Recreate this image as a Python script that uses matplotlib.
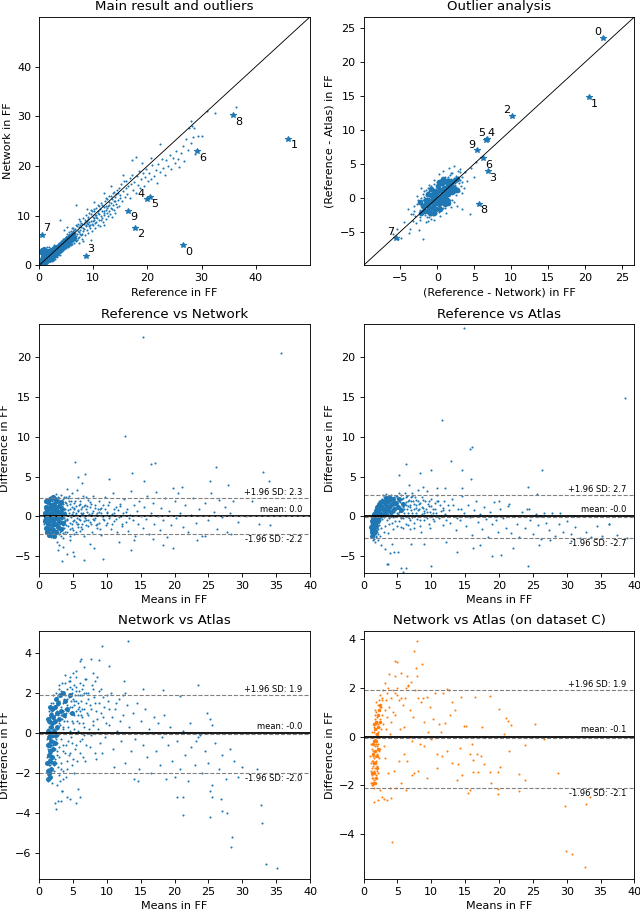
import numpy as np
import matplotlib
matplotlib.use("Agg")
import matplotlib.pyplot as plt
from matplotlib import transforms

# labelled outliers 0..9 : reference, network, atlas (FF)
out_ref = [26.6, 46.0, 17.7, 8.7, 19.9, 20.4, 29.2, 0.6, 35.8, 16.4]
out_net = [4.1, 25.5, 7.6, 1.9, 13.3, 13.7, 23.0, 6.2, 30.2, 11.0]
out_atlas = [3.0, 31.2, 5.6, 4.8, 11.4, 11.7, 23.4, 6.5, 36.7, 9.4]

# panel 1: reference vs network (dense core drawn with bigger dots)
p1_core = [
    (0.4,0.4),(0.5,0.6),(0.6,1.2),(0.7,1.9),(0.8,0.8),(0.9,1.5),(0.9,0.5),(1.0,2.3),(1.1,1.0),(1.2,1.7),(1.3,2.6),(1.3,0.6),(1.4,1.2),(1.5,2.0),(1.6,2.9),(1.7,1.4),(1.8,2.2),(1.9,1.0),(2.0,2.7),(2.1,1.7),
    (2.2,3.1),(2.3,1.3),(2.4,2.3),(2.5,3.0),(2.6,1.8),(2.7,2.6),(2.8,3.5),(2.9,2.1),(3.0,2.9),(3.2,3.7),(3.3,2.5),(3.4,3.2),(3.6,4.0),(3.7,2.9),(3.8,3.6),(4.0,4.4),(4.1,3.3),(4.2,4.0),(4.4,4.8),(4.5,3.7),
    (4.6,4.4),(4.8,5.1),(4.9,4.1),(5.0,4.8),(5.2,5.5),(5.3,4.5),(5.5,5.2),(5.7,6.0),(5.8,4.9),(6.0,5.6),(6.3,6.3),(6.5,5.5),(0.4,2.6),(0.6,3.0),(1.0,3.2),
]
p1_pts = [
    (0.35,0.4),(0.4,0.9),(0.45,1.5),(0.5,0.6),(0.5,2.2),(0.55,1.1),(0.6,0.5),(0.6,1.8),(0.65,2.8),(0.7,0.8),(0.7,1.3),(0.75,2.1),(0.8,0.6),(0.8,3.4),(0.85,1.6),(0.9,1.0),(0.9,2.5),(0.95,0.7),(1.0,1.3),(1.0,1.9),
    (1.05,3.0),(1.1,0.8),(1.1,2.3),(1.15,1.5),(1.2,1.0),(1.2,2.8),(1.25,1.8),(1.3,0.7),(1.3,2.2),(1.35,1.3),(1.4,3.6),(1.4,1.7),(1.45,0.9),(1.5,2.5),(1.5,1.4),(1.55,2.0),(1.6,1.1),(1.6,3.1),(1.65,1.8),(1.7,0.8),
    (1.7,2.4),(1.75,1.5),(1.8,2.9),(1.8,1.2),(1.85,2.1),(1.9,1.7),(1.9,3.8),(1.95,0.9),(2.0,2.6),(2.0,1.4),(2.05,2.0),(2.1,3.3),(2.1,1.1),(2.15,1.8),(2.2,2.4),(2.2,1.5),(2.25,2.9),(2.3,0.9),(2.3,2.1),(2.35,1.7),
    (2.4,3.5),(2.4,1.3),(2.45,2.6),(2.5,1.9),(2.5,2.3),(2.55,1.1),(2.6,3.0),(2.6,1.6),(2.65,2.2),(2.7,2.7),(2.7,1.4),(2.75,4.2),(2.8,2.0),(2.8,3.3),(2.85,1.8),(2.9,2.5),(2.9,1.2),(2.95,2.9),(3.0,2.2),(3.0,3.7),
    (3.05,1.9),(3.1,2.6),(3.1,3.2),(3.15,4.0),(3.2,2.3),(3.25,3.5),(3.3,1.6),(3.3,2.9),(3.35,3.8),(3.4,2.5),(3.45,4.4),(3.5,3.1),(3.5,2.1),(3.55,3.6),(3.6,2.8),(3.65,4.6),(3.7,3.3),(3.7,2.4),(3.75,3.9),(3.8,2.9),
    (3.85,4.3),(3.9,3.4),(3.9,2.0),(3.95,3.7),(4.0,3.0),(4.05,4.9),(4.1,3.6),(4.1,2.6),(4.15,4.2),(4.2,3.3),(4.25,3.9),(4.3,2.8),(4.35,4.6),(4.4,3.5),(4.45,4.1),(4.5,3.0),(4.5,5.3),(4.55,3.8),(4.6,4.4),(4.65,3.2),
    (4.7,4.9),(4.75,3.7),(4.8,4.2),(4.85,3.4),(4.9,5.5),(4.95,4.0),(5.0,4.6),(5.05,3.5),(5.1,5.1),(5.15,4.3),(5.2,3.9),(5.25,5.8),(5.3,4.5),(5.35,3.6),(5.4,5.0),(5.45,4.2),(5.5,6.1),(5.55,4.8),(5.6,3.9),(5.65,5.4),
    (5.7,4.4),(5.75,6.4),(5.8,5.0),(5.85,4.1),(5.9,5.7),(5.95,4.7),(6.0,6.6),(6.05,5.2),(6.1,4.3),(6.15,5.9),(6.2,5.0),(6.3,7.0),(6.35,5.5),(6.4,4.6),(6.5,6.2),
    (6.6,5.1),(6.7,7.4),(6.8,6.0),(6.9,4.9),(7.0,7.9),(7.0,6.4),(7.1,5.5),(7.2,8.3),(7.3,6.8),(7.4,5.7),(7.5,7.2),(7.6,9.0),(7.7,6.1),(7.8,7.7),(7.9,5.4),(8.0,8.4),(8.1,6.9),(8.2,9.6),(8.3,7.4),(8.4,6.2),
    (8.5,8.8),(8.6,7.9),(8.7,10.1),(8.8,7.1),(8.9,8.5),(9.0,6.6),(9.1,9.3),(9.2,8.0),(9.3,10.6),(9.4,7.5),(9.5,9.0),(9.6,11.2),(9.7,8.4),(9.8,6.9),(9.9,9.7),(10.0,8.2),(10.1,10.9),(10.2,9.1),(10.3,7.6),(10.4,10.2),
    (10.5,11.6),(10.6,8.8),(10.7,9.6),(10.8,12.1),(10.9,8.1),(11.0,10.4),(11.1,9.2),(11.2,11.3),(11.3,7.9),(11.4,10.0),(11.5,12.5),(11.6,9.5),(11.7,10.9),(11.8,8.7),(11.9,11.7),(12.0,10.1),(12.2,12.9),(12.3,9.3),(12.4,11.2),(12.5,10.5),
    (12.6,13.4),(12.7,9.9),(12.8,12.0),(12.9,11.0),(13.0,14.0),(13.1,10.4),(13.2,12.6),(13.3,11.6),(13.4,9.8),(13.5,13.3),(13.6,12.1),(13.7,14.6),(13.8,11.2),(13.9,12.9),(14.0,10.6),(14.1,13.8),(14.2,12.4),(14.3,15.2),(14.4,11.8),(14.5,13.1),
    (14.6,14.5),(14.7,12.0),(14.8,15.6),(14.9,13.5),(3.9,9.1),(6.85,12.2),(4.6,7.2),(5.1,7.8),(9.6,5.2),(11.9,8.1),(7.3,4.6),(8.1,5.0),(6.2,7.6),(7.4,9.4),(8.8,11.3),(10.2,12.8),(12.0,14.6),(13.3,15.9),
    (5.2,6.3),(5.6,6.8),(6.0,7.5),(6.3,5.6),(6.6,6.5),(6.9,8.1),(7.2,7.0),(7.5,6.3),(7.8,8.6),(8.1,7.6),(8.4,9.2),(8.7,8.1),(9.0,9.8),(9.3,8.7),(9.6,10.3),(9.9,8.9),(10.2,11.3),(10.5,9.7),(10.8,10.6),(11.1,11.9),
    (11.4,9.1),(11.7,12.1),(12.0,11.0),(12.3,13.6),(12.6,11.6),(12.9,12.7),(13.2,13.9),(13.5,11.4),(13.8,14.7),(14.1,12.9),(6.4,7.1),(7.3,7.7),(8.3,8.4),(9.1,8.4),(10.1,9.6),(10.9,11.0),(11.9,10.6),(5.9,6.9),(6.7,5.8),(7.6,8.2),
    (8.9,9.0),(9.8,10.9),(10.6,10.2),(12.4,12.0),(13.0,12.2),(14.2,14.3),(7.0,5.2),(8.0,6.4),(9.4,8.1),(10.4,8.6),
    (15.0,14.1),(15.2,16.3),(15.3,13.0),(15.5,14.9),(15.6,17.0),(15.8,13.8),(16.0,15.6),(16.1,16.9),(16.3,14.4),(16.5,15.9),(16.7,17.5),(16.8,13.5),(17.0,16.4),(17.2,18.2),(17.4,15.2),(17.6,16.8),(17.8,14.6),(18.0,17.9),(18.2,16.1),(18.4,19.0),
    (18.6,15.6),(18.9,17.3),(19.1,18.6),(19.3,16.0),(19.6,17.8),(19.8,19.4),(20.1,16.9),(20.3,18.5),(20.6,17.4),(20.9,20.1),(21.2,18.0),(21.5,19.2),(21.8,16.5),(22.0,20.3),(22.3,18.7),(22.6,21.5),(22.9,19.6),(23.2,18.1),(23.5,21.2),(23.8,20.0),
    (24.1,22.3),(24.4,19.3),(24.7,21.7),(25.0,20.6),(25.3,23.0),(25.6,21.4),(25.9,19.8),(26.2,22.6),(26.5,24.1),(26.8,21.0),(27.1,25.4),(27.4,23.2),(27.7,27.6),(28.0,24.6),(28.3,28.0),(28.5,25.8),(28.8,22.4),(17.8,21.9),(17.2,21.2),(15.4,18.2),
    (29.3,26.0),(30.1,26.0),(28.6,27.6),(28.1,29.0),(30.9,31.1),(32.4,30.7),(36.4,31.9),(22.3,24.4),(20.6,21.6),(19.0,20.5),
]

# panel 2: (reference - network) vs (reference - atlas)
p2_core = [
    (-1.8,-1.9),(-1.5,-1.0),(-1.4,-2.0),(-1.2,-0.3),(-1.1,-1.4),(-1.0,-2.2),(-0.9,-0.7),(-0.8,0.4),(-0.7,-1.5),(-0.6,-0.2),(-0.5,1.0),(-0.4,-0.9),(-0.3,0.3),(-0.2,-1.7),(-0.1,-0.4),(0.0,0.8),(0.1,1.7),(0.2,-1.0),(0.3,0.1),(0.4,1.2),
    (0.5,-0.5),(0.6,2.1),(0.7,0.6),(0.8,-0.2),(0.9,1.5),(1.0,0.2),(1.1,2.4),(1.2,1.0),(1.3,-0.3),(1.4,1.8),(1.5,0.6),(1.6,2.5),(1.7,1.3),(1.9,2.0),(2.0,0.9),(2.2,2.4),(2.3,1.5),(-1.6,-0.4),(-2.0,-1.2),(-0.2,0.9),
    (0.4,-1.6),(-1.3,0.5),(0.2,2.3),(1.0,-0.9),(-0.5,-2.3),(0.7,2.8),(2.6,2.7),(-2.2,-2.3),(-2.3,-0.6),(2.7,1.1),(-0.9,1.3),(1.5,-0.8),
]
p2_pts = [
    (-2.4,-1.8),(-2.3,-0.9),(-2.2,-2.4),(-2.1,-1.3),(-2.0,-0.4),(-1.95,-2.0),(-1.9,-1.0),(-1.8,0.1),(-1.75,-1.6),(-1.7,-2.6),(-1.65,-0.6),(-1.6,-1.3),(-1.55,0.4),(-1.5,-2.1),(-1.45,-0.9),(-1.4,-1.6),(-1.35,0.0),(-1.3,-0.5),(-1.25,-2.3),(-1.2,-1.1),
    (-1.15,0.6),(-1.1,-1.8),(-1.05,-0.3),(-1.0,-0.9),(-0.95,-1.5),(-0.9,0.3),(-0.85,-2.1),(-0.8,-0.6),(-0.75,1.0),(-0.7,-1.2),(-0.65,-0.1),(-0.6,-1.7),(-0.55,0.5),(-0.5,-0.7),(-0.45,-1.3),(-0.4,0.8),(-0.35,-0.3),(-0.3,-2.0),(-0.25,0.2),(-0.2,-0.9),
    (-0.15,1.3),(-0.1,-0.5),(-0.05,-1.5),(0.0,0.5),(0.0,-0.1),(0.05,1.7),(0.1,-0.8),(0.15,0.9),(0.2,0.1),(0.25,-1.3),(0.3,1.4),(0.35,-0.4),(0.4,0.6),(0.45,2.1),(0.5,-0.1),(0.55,1.0),(0.6,-0.9),(0.65,1.8),(0.7,0.4),(0.75,2.5),
    (0.8,0.9),(0.85,-0.3),(0.9,1.5),(0.95,0.2),(1.0,2.2),(1.05,1.1),(1.1,-0.5),(1.15,1.7),(1.2,0.6),(1.25,2.7),(1.3,1.3),(1.35,0.1),(1.4,2.0),(1.45,0.9),(1.5,3.0),(1.55,1.6),(1.6,0.4),(1.65,2.4),(1.7,1.2),(1.75,3.3),
    (1.8,1.9),(1.85,0.8),(1.9,2.7),(1.95,1.5),(2.0,3.6),(2.1,2.2),(2.2,1.1),(2.3,2.9),(2.4,1.8),(2.5,3.2),(2.6,2.4),(2.7,1.4),(2.8,3.0),(2.9,2.1),(3.0,3.8),(3.1,2.6),
    (-2.0,0.5),(-1.6,1.1),(-1.2,1.4),(-0.8,1.7),(-0.4,2.0),(0.0,2.3),(0.4,2.6),(1.0,3.0),(-2.6,-0.3),(-2.8,-1.0),(-3.1,-1.9),(-2.4,-2.8),(-1.4,-2.8),(-0.6,-2.6),(0.2,-2.1),(0.8,-1.5),(1.4,-1.0),(2.0,-0.3),(2.5,0.4),(2.9,1.0),
    (3.2,1.7),(3.4,3.0),(-3.3,-2.4),(1.7,-0.4),(2.4,0.9),(-2.2,-0.1),(-1.1,1.0),(0.6,2.3),(1.5,2.8),(-0.9,-2.5),
    (-6.0,-5.3),(-5.3,-6.1),(-4.9,-6.0),(-5.5,-4.6),(-4.5,-3.6),(-3.7,-4.6),(-3.3,-3.4),(-2.0,-6.1),(-3.0,-2.7),(-3.6,-2.4),(-2.9,-3.8),(-4.0,-1.6),(-3.2,-1.2),(-2.7,0.3),(-2.4,-3.3),(-1.6,-3.6),(-0.9,-3.1),(-0.5,-3.3),(0.4,-2.7),(1.2,-2.2),
    (1.8,-1.4),(2.2,-0.6),(3.3,0.7),(3.6,1.5),(4.0,2.4),(4.4,-2.4),(3.3,-1.6),(2.7,-1.2),(3.7,3.8),(4.5,4.4),(3.1,4.2),(2.3,4.7),(1.6,4.4),(0.8,3.9),(0.2,3.5),(-0.4,2.6),(-1.1,1.9),(-1.8,1.0),(-2.2,1.4),(4.9,3.0),
    (5.2,5.2),(-3.9,-5.2),(-1.1,-2.8),(-2.5,-4.8),(2.8,4.0),(1.9,3.6),(3.4,2.3),(-1.3,-3.4),(1.0,-1.5),(-0.2,-2.3),
]

# panel 3: means vs (reference - network)
p3_core = [
    (0.9,-0.6),(0.9,0.4),(1.0,-1.5),(1.0,1.2),(1.1,-0.1),(1.2,-2.0),(1.2,0.8),(1.3,-0.9),(1.3,1.8),(1.4,0.2),(1.5,-1.6),(1.5,1.1),(1.6,-0.5),(1.6,2.2),(1.7,0.5),(1.8,-2.2),(1.8,1.5),(1.9,-1.1),(1.9,0.0),(2.0,2.4),
    (2.0,0.9),(2.1,-1.7),(2.1,-0.4),(2.2,1.6),(2.3,0.4),(2.3,-1.0),(2.4,2.2),(2.5,-2.0),(2.5,1.1),(2.6,-0.2),(2.7,0.7),(2.7,1.9),(2.8,-1.3),(2.9,0.1),(2.9,1.3),(3.0,-0.7),(3.1,0.6),(3.2,1.8),(3.2,-1.6),(3.3,-0.1),
    (1.4,-2.3),(1.1,1.9),(2.2,-2.5),(3.4,1.0),(3.5,-0.8),(3.7,0.3),
]
p3_pts = [
    (0.7,-0.3),(0.75,0.5),(0.8,-1.0),(0.85,0.9),(0.9,0.1),(0.95,-0.6),(1.0,1.3),(1.0,-1.5),(1.05,0.3),(1.1,-0.2),(1.1,1.8),(1.15,-0.9),(1.2,0.6),(1.2,-2.0),(1.25,0.0),(1.3,1.1),(1.3,-0.5),(1.35,2.2),(1.4,-1.3),(1.4,0.4),
    (1.45,-0.1),(1.5,1.5),(1.5,-0.8),(1.55,-2.3),(1.6,0.8),(1.6,-0.3),(1.65,2.5),(1.7,-1.6),(1.7,0.2),(1.75,1.2),(1.8,-0.6),(1.8,-2.6),(1.85,0.5),(1.9,1.9),(1.9,-1.1),(1.95,-0.2),(2.0,0.9),(2.0,2.6),(2.05,-1.8),(2.1,0.3),
    (2.1,-0.7),(2.15,1.4),(2.2,-0.1),(2.2,2.2),(2.25,-1.4),(2.3,0.6),(2.3,-2.4),(2.35,1.7),(2.4,-0.4),(2.4,0.1),(2.45,2.8),(2.5,-1.0),(2.5,1.0),(2.55,-0.2),(2.6,2.0),(2.6,-1.7),(2.65,0.4),(2.7,1.3),(2.7,-0.6),(2.75,2.5),
    (2.8,-1.3),(2.8,0.0),(2.85,0.8),(2.9,-2.2),(2.9,1.6),(2.95,-0.4),(3.0,0.5),(3.0,2.3),(3.05,-1.0),(3.1,1.1),(3.1,-0.1),(3.15,-1.9),(3.2,0.7),(3.2,1.9),(3.25,-0.6),(3.3,0.2),(3.3,2.7),(3.35,-1.4),(3.4,1.3),(3.4,-0.3),
    (3.45,0.6),(3.5,-2.1),(3.5,1.6),(3.55,-0.8),(3.6,0.3),(3.6,2.2),(3.65,-0.2),(3.7,1.0),(3.7,-1.5),(3.75,0.0),(3.8,1.8),(3.85,-0.6),(3.9,0.6),(3.95,2.5),(4.0,-1.1),(4.0,0.2),
    (3.2,-2.5),(3.4,2.0),(3.6,-1.1),(3.8,0.9),(4.0,1.7),(4.1,-0.3),(4.3,0.8),(4.5,1.6),(4.6,-0.8),(4.8,0.3),(5.0,-0.6),(5.1,1.1),(5.3,1.9),(5.4,0.2),(5.6,-1.0),(5.7,0.7),(5.9,1.5),(6.0,-0.5),(6.2,0.9),(6.3,-1.6),
    (6.5,0.4),(6.7,1.3),(6.8,-0.2),(7.0,-1.1),(7.1,0.6),(7.3,-0.4),(7.5,1.2),(7.7,-0.9),(7.8,0.4),(8.0,-0.3),(8.2,1.4),(8.4,0.2),(8.6,-0.9),(8.8,0.6),(9.0,-1.6),(9.2,1.1),(9.5,0.0),(9.7,0.9),(10.0,-0.8),(10.2,1.5),
    (10.5,0.1),(10.7,-1.0),(11.0,0.5),(11.4,-0.3),(11.9,1.3),(12.3,-0.9),(12.9,0.6),(13.3,-0.2),(3.3,1.3),(3.5,-1.4),(3.7,2.4),(3.9,-0.5),(4.2,-1.9),(4.4,2.6),(4.7,1.9),(4.9,-1.4),(5.2,0.9),(5.5,-2.0),(5.8,2.3),(6.1,0.0),
    (4.1,1.4),(4.2,-0.5),(4.3,2.3),(4.4,0.4),(4.5,-1.6),(4.6,1.0),(4.7,-0.1),(4.8,2.9),(4.9,-1.0),(5.0,0.6),(5.1,1.7),(5.2,-2.2),(5.3,0.2),(5.4,-0.7),(5.5,1.3),(5.6,3.3),(5.7,-1.3),(5.8,0.8),(5.9,-0.3),(6.0,2.0),
    (6.1,-1.8),(6.2,0.5),(6.3,1.2),(6.4,-0.9),(6.5,2.6),(6.6,0.0),(6.7,-2.5),(6.8,1.5),(6.9,-0.4),(7.0,0.9),(7.2,-1.2),(7.3,2.1),(7.4,0.3),(7.5,-0.7),(7.7,1.6),(7.8,-1.9),(7.9,0.7),(8.0,2.6),(8.2,-0.2),(8.3,1.1),
    (8.5,-1.4),(8.6,0.4),(8.8,1.9),(8.9,-0.8),(9.0,0.9),(9.2,-2.3),(9.3,0.1),(9.5,1.4),(9.6,-0.5),(9.8,2.4),(9.9,-1.1),(10.1,0.6),(10.3,-0.2),(10.4,1.8),(10.6,-1.6),(10.8,0.3),(10.9,2.9),(11.1,-0.6),(11.3,1.2),(11.5,-2.0),
    (11.6,0.8),(11.8,-0.1),(12.0,1.6),(12.2,-1.2),(12.4,0.4),(12.6,2.2),(12.8,-0.7),(13.0,1.0),(13.2,-1.8),(13.4,0.2),(13.6,3.2),(13.8,-0.4),(14.0,1.5),(14.2,-2.4),(14.4,0.7),(14.6,-1.0),(14.8,2.0),(15.0,0.1),(15.3,-1.4),(15.5,1.2),
    (15.8,-0.3),(16.0,2.6),(16.3,-2.2),(16.5,0.5),(16.8,1.7),(17.0,-0.9),(17.3,3.1),(17.5,0.0),(17.8,-1.7),(18.0,1.1),(18.3,-0.5),(18.6,2.3),(18.9,-2.6),(19.2,0.7),(19.5,-1.1),(19.8,3.6),(20.0,1.9),(20.2,-0.2),(20.5,2.9),(20.8,0.5),
    (21.2,-1.3),(21.6,1.4),(22.0,-2.0),(22.4,0.2),(22.8,2.3),(23.2,-0.8),(23.6,0.9),(24.0,-2.5),(24.5,1.7),(25.0,-0.4),(25.4,3.0),(25.8,0.6),(26.2,-1.6),(26.6,2.1),(27.0,-0.1),(27.4,1.2),(27.8,-1.9),(28.2,0.4),(28.7,1.9),(29.3,-0.7),
    (30.5,0.1),(31.5,1.9),(32.5,-0.9),(34.1,-1.1),
    (4.3,-1.2),(4.6,0.1),(4.9,1.2),(5.2,-0.4),(5.5,0.5),(5.8,-0.9),(6.1,1.6),(6.4,0.3),(6.7,-0.6),(7.1,1.3),(7.6,0.2),(8.1,-0.5),(8.7,1.0),(9.4,-0.3),(10.0,0.4),(11.0,1.0),(12.1,0.1),(4.4,2.0),(5.0,-1.7),(5.6,-0.2),
    (6.2,-1.3),(6.9,2.4),(7.5,1.8),(8.4,-1.1),(9.1,0.4),(3.9,-2.0),(4.2,3.5),(4.5,-2.4),(3.6,-2.7),
    (6.3,4.25),(5.7,5.0),(6.8,5.3),(10.3,4.7),(15.5,4.5),(21.1,3.75),(25.3,4.4),(33.9,4.4),(27.9,3.9),(5.2,-4.9),(6.6,-5.4),(9.5,-5.3),(13.6,-4.25),(18.3,-3.6),(19.8,-4.0),(4.2,-4.7),(5.0,-4.5),(2.8,-4.2),(7.5,-3.5),(14.0,-3.0),
    (2.6,-3.2),(3.0,-3.6),(3.6,-3.8),(4.6,-3.0),(8.1,-3.9),(11.8,-3.2),(16.8,-2.8),(23.3,-2.9),(28.3,-2.2),(24.5,-2.5),
]

# panel 4: means vs (reference - atlas)
p4_core = [
    (1.2,-2.0),(1.15,-1.3),(1.2,-0.6),(1.3,-2.4),(1.3,-1.7),(1.35,-0.9),(1.4,-0.2),(1.45,-1.4),(1.5,-2.1),(1.55,-0.6),(1.6,0.3),(1.65,-1.0),(1.7,-1.8),(1.8,-0.3),(1.85,0.7),(1.9,-1.2),(2.0,0.2),(2.05,1.2),(2.1,-0.6),(2.2,0.8),
    (2.3,1.6),(2.35,-0.1),(2.5,0.5),(2.55,1.3),(2.7,2.0),(2.75,0.2),(2.9,1.0),(3.0,1.8),(3.1,0.4),(3.3,1.4),(3.35,2.3),(3.5,0.8),(3.6,1.9),(3.8,1.2),(3.9,2.3),(4.0,0.6),(4.2,1.6),(4.4,2.2),(4.5,1.0),(4.8,1.7),
    (5.1,1.2),(5.3,2.2),(5.6,0.8),(5.9,1.6),
]
p4_pts = [
    (1.1,-1.0),(1.1,-1.6),(1.15,-0.5),(1.15,-2.1),(1.2,-1.3),(1.2,-0.2),(1.25,-1.9),(1.25,-0.8),(1.3,-2.4),(1.3,-1.1),(1.3,0.1),(1.35,-1.6),(1.35,-0.5),(1.4,-2.0),(1.4,-0.9),(1.4,0.3),(1.45,-1.3),(1.45,-2.6),(1.5,-0.3),(1.5,-1.7),
    (1.5,0.6),(1.55,-1.0),(1.55,-2.2),(1.6,-0.6),(1.6,0.2),(1.6,-1.4),(1.65,0.8),(1.65,-1.9),(1.7,-0.2),(1.7,-0.9),(1.75,1.0),(1.75,-1.3),(1.8,0.4),(1.8,-0.5),(1.85,-1.7),(1.85,1.2),(1.9,0.0),(1.9,-1.0),(1.95,0.7),(2.0,1.4),
    (2.0,-0.4),(2.05,-1.4),(2.1,0.3),(2.1,1.0),(2.15,-0.8),(2.2,1.6),(2.2,0.5),(2.25,-0.2),(2.3,1.1),(2.3,-1.1),(2.35,0.8),(2.4,1.8),(2.4,0.1),(2.45,1.3),(2.5,-0.5),(2.5,0.6),(2.55,2.0),(2.6,1.0),(2.6,0.2),(2.65,1.6),
    (2.7,-0.3),(2.7,2.2),(2.75,0.8),(2.8,1.3),(2.85,0.4),(2.9,1.9),(2.9,1.0),(2.95,2.4),(3.0,0.7),(3.0,1.5),(3.05,-0.1),(3.1,2.0),(3.15,1.1),(3.2,0.5),(3.2,2.5),(3.25,1.6),(3.3,0.9),(3.35,2.1),(3.4,1.3),(3.4,-0.4),
    (3.45,0.6),(3.5,2.3),(3.5,1.0),(3.55,1.8),(3.6,0.3),(3.65,2.6),(3.7,1.4),(3.7,0.8),(3.75,2.0),(3.8,-0.2),(3.85,1.1),(3.9,2.4),(3.9,1.6),(3.95,0.5),(4.0,1.9),(4.05,1.2),(4.1,2.7),(4.15,0.2),(4.2,1.5),(4.25,2.2),
    (4.3,0.9),(4.35,1.8),(4.4,-0.1),(4.45,2.5),(4.5,1.2),(4.55,0.6),(4.6,2.0),(4.65,1.5),(4.7,0.1),(4.75,2.6),(4.8,1.0),(4.85,1.8),(4.9,0.5),(4.95,2.3),(5.0,1.4),
    (1.2,-0.6),(1.3,-0.7),(1.4,-1.5),(1.5,-1.1),(1.6,-1.0),(1.7,0.4),(1.8,-1.2),(1.9,0.6),(2.0,0.2),(2.1,-0.4),(2.2,-0.6),(2.3,0.3),(2.4,0.9),(2.5,1.5),(2.6,1.9),(2.7,0.5),(2.8,2.0),(2.9,0.2),(3.0,2.1),(3.1,1.4),
    (3.2,1.2),(3.3,1.9),(3.4,0.7),(3.5,1.5),(3.6,1.1),(3.7,2.3),(3.8,1.7),(3.9,0.9),(4.0,1.4),(4.1,0.7),(4.3,1.6),(4.5,1.8),(2.3,1.9),(2.5,1.1),(2.7,1.4),(2.9,2.7),(3.1,0.9),(3.3,2.8),(3.5,0.4),(1.25,-1.4),
    (1.35,-2.2),(1.45,-0.4),(1.55,0.0),(1.65,-0.3),(1.75,-0.7),(1.85,0.2),(1.95,-0.7),(2.05,0.9),(2.15,1.3),(2.25,0.7),(1.4,-3.0),(1.6,-2.8),(1.8,-2.4),(2.0,-2.0),(2.2,-1.6),
    (5.0,2.6),(5.2,0.6),(5.4,1.8),(5.5,-0.2),(5.7,2.2),(5.8,1.2),(6.0,0.4),(6.2,2.4),(6.4,0.9),(6.5,1.9),(6.7,-0.2),(6.8,1.2),(7.0,2.4),(7.2,0.5),(7.4,1.6),(7.6,0.0),(7.8,2.1),(8.0,0.8),(8.2,1.6),(8.4,-0.5),
    (8.6,1.2),(8.8,2.1),(9.0,0.4),(9.2,1.0),(9.4,-0.2),(9.6,2.0),(9.8,0.6),(10.0,1.3),(10.3,-0.3),(10.6,0.9),(11.0,1.9),(11.4,0.0),(11.8,1.1),(12.2,-0.5),(12.6,0.8),(13.2,1.5),(13.8,-0.2),(14.4,0.9),(4.6,-0.6),(4.2,-0.8),
    (3.8,-1.0),(3.2,-1.2),(2.6,-1.4),(2.2,-2.2),(1.9,-2.6),(1.7,-3.2),(2.1,-3.0),(2.4,-2.5),(3.0,-1.9),(3.6,-2.1),(4.4,-1.6),(5.0,-1.2),(5.8,-1.5),(6.6,-1.1),(7.4,-1.5),
    (5.1,0.3),(5.2,2.0),(5.3,-0.6),(5.4,1.2),(5.5,2.7),(5.6,0.7),(5.7,1.7),(5.8,-0.2),(5.9,2.3),(6.0,1.0),(6.1,0.1),(6.2,1.8),(6.3,-1.0),(6.4,2.6),(6.5,1.3),(6.6,0.4),(6.7,2.1),(6.8,-0.5),(6.9,1.5),(7.0,0.8),
    (7.1,3.0),(7.2,-0.1),(7.3,1.9),(7.4,1.0),(7.5,-0.8),(7.6,2.4),(7.7,0.5),(7.8,1.5),(7.9,-0.3),(8.0,2.0),(8.2,0.9),(8.3,-1.2),(8.4,1.7),(8.6,0.3),(8.7,2.5),(8.8,1.1),(9.0,-0.4),(9.1,1.9),(9.3,0.6),(9.4,3.2),
    (9.6,-0.9),(9.7,1.3),(9.9,0.2),(10.0,2.2),(10.2,1.0),(10.4,-0.6),(10.5,1.7),(10.7,0.4),(10.9,2.7),(11.1,-0.2),(11.3,1.4),(11.5,0.7),(11.7,-1.1),(11.9,2.0),(12.1,0.3),(5.3,2.9),(6.1,2.9),(7.2,2.6),(8.1,3.3),(5.6,-1.3),
    (6.9,-1.6),(8.5,-1.9),(9.8,-1.4),(10.8,1.9),(11.8,0.8),(5.4,0.9),(6.3,1.5),(7.0,2.0),(7.7,1.1),(8.9,0.7),(9.5,1.6),(10.3,0.5),
    (12.4,1.5),(12.7,-0.8),(13.0,2.2),(13.3,0.1),(13.6,-1.7),(13.9,1.0),(14.2,-0.4),(14.5,2.6),(14.8,0.5),(15.1,-1.2),(15.4,1.4),(15.7,-0.1),(16.0,-2.3),(16.3,0.8),(16.6,2.0),(16.9,-0.7),(17.2,0.3),(17.5,-1.6),(17.8,1.2),(18.1,-0.3),
    (18.4,-2.6),(18.7,0.6),(19.0,-1.0),(19.3,1.8),(19.6,-0.5),(19.9,-1.9),(20.2,0.9),(20.6,-0.2),(21.0,-1.4),(21.4,1.3),(21.8,-2.1),(22.2,0.1),(22.6,-0.9),(23.0,-2.6),(23.4,0.6),(23.8,-1.5),(24.2,1.0),(24.6,-0.4),(25.0,-2.2),(25.4,0.3),
    (25.8,-1.1),(26.2,-2.8),(26.6,0.5),(27.0,-0.8),(27.4,-1.7),(27.8,0.4),(28.2,-2.4),(28.8,-1.0),(29.4,-1.9),(30.0,-0.6),(30.6,-2.2),(31.2,-1.3),(32.0,-2.7),(32.8,-1.9),(33.6,-2.6),(34.4,-1.2),(35.2,-2.4),(36.3,-0.9),(37.4,-2.3),(38.9,-2.7),
    (20.0,2.0),(21.5,1.6),(24.5,0.9),(26.0,0.1),(29.0,0.5),(31.0,0.0),
    (6.2,6.6),(5.3,5.2),(8.3,5.5),(9.9,5.8),(14.6,5.8),(15.8,4.7),(12.0,3.6),(14.5,3.6),(24.3,3.7),(25.6,2.8),(8.8,3.7),(10.9,3.6),(3.4,-5.9),(3.9,-4.6),(5.6,-6.4),(6.2,-6.5),(5.9,-6.9),(10.0,-6.2),(24.3,-6.2),(13.8,-4.5),
    (19.0,-4.9),(20.3,-4.8),(4.5,-4.4),(5.1,-4.5),(16.2,-3.9),(17.2,-3.6),(2.6,-3.6),(3.1,-4.1),(4.2,-3.4),(7.0,-3.5),(9.0,-3.4),(12.2,-3.2),(22.0,-3.9),(25.9,-3.6),(27.5,-3.0),(30.7,-3.1),
]

# panel 5: means vs (network - atlas)
p5_core = [
    (1.2,-1.5),(1.25,-0.6),(1.3,-1.9),(1.3,0.1),(1.4,-1.1),(1.4,-0.2),(1.45,-2.0),(1.5,-0.6),(1.5,0.6),(1.55,-1.4),(1.6,-0.1),(1.65,-0.9),(1.7,-1.8),(1.7,0.9),(1.75,0.3),(1.8,-0.4),(1.85,-1.2),(1.9,1.2),(1.9,0.5),(2.0,-0.8),
    (2.0,-0.1),(2.1,0.8),(2.15,-1.5),(2.2,0.1),(2.3,1.3),(2.3,-0.5),(2.4,0.6),(2.5,1.7),(2.5,-0.1),(2.6,1.0),(2.7,0.3),(2.8,1.5),(3.0,0.7),(3.1,1.9),(3.3,1.1),(3.5,2.0),(3.7,0.9),(3.9,1.6),(4.2,1.2),(4.5,1.9),
    (4.8,1.0),(1.35,-2.3),(1.6,-2.2),(1.25,0.7),(1.55,1.3),
]
p5_pts = [
    (1.2,-1.2),(1.2,-0.3),(1.25,-1.8),(1.25,0.2),(1.3,-0.8),(1.3,-2.1),(1.35,-0.2),(1.35,-1.4),(1.4,0.5),(1.4,-1.0),(1.45,-1.9),(1.45,-0.5),(1.5,0.0),(1.5,-1.3),(1.55,0.8),(1.55,-0.7),(1.6,-1.6),(1.6,0.3),(1.65,-0.3),(1.65,-2.2),
    (1.7,1.0),(1.7,-1.0),(1.75,0.1),(1.75,-0.6),(1.8,-1.5),(1.8,0.6),(1.85,1.3),(1.85,-0.2),(1.9,-0.9),(1.9,0.4),(1.95,-1.8),(1.95,1.0),(2.0,0.0),(2.0,-0.5),(2.05,1.5),(2.1,-1.2),(2.1,0.7),(2.15,0.2),(2.2,-0.4),(2.2,1.2),
    (2.25,-1.6),(2.3,0.5),(2.3,1.7),(2.35,-0.8),(2.4,0.9),(2.4,0.0),(2.45,1.4),(2.5,-0.3),(2.5,2.0),(2.55,0.6),(2.6,-1.1),(2.6,1.1),(2.65,0.2),(2.7,1.8),(2.7,-0.5),(2.75,0.9),(2.8,1.4),(2.85,-0.1),(2.9,2.2),(2.9,0.5),
    (2.95,1.0),(3.0,-0.7),(3.0,1.6),(1.3,-0.5),(1.4,-1.6),(1.5,-0.6),(1.6,-0.9),(1.7,-0.4),(1.8,-1.1),(1.9,-0.1),(2.0,0.8),(2.1,-0.6),(2.2,0.5),(2.3,-0.2),(2.4,-1.3),(1.35,-2.4),(1.55,-2.3),(1.75,-2.0),(1.95,-2.5),(2.15,-1.9),
    (1.4,-0.1),(1.6,0.9),(1.8,1.0),(2.0,1.9),(1.3,0.6),(1.5,1.1),(1.7,1.5),(1.45,0.3),(1.65,-1.3),(1.85,-0.6),
    (3.0,2.4),(3.2,0.9),(3.3,2.1),(3.5,0.3),(3.6,1.5),(3.8,0.0),(3.9,2.5),(4.0,1.0),(4.2,1.7),(4.3,-0.4),(4.5,1.3),(4.6,2.8),(4.8,0.6),(4.9,2.2),(5.1,1.4),(5.2,0.2),(5.4,1.6),(5.5,2.3),(5.7,1.2),(5.9,0.5),
    (6.0,1.9),(6.2,0.9),(6.4,1.2),(6.5,2.4),(6.7,-0.1),(6.9,2.0),(7.1,1.0),(7.3,1.7),(7.4,0.2),(7.7,1.2),(7.9,2.2),(8.0,0.4),(8.3,1.5),(8.6,0.7),(8.8,2.1),(9.1,1.0),(9.5,1.8),(9.9,0.5),(10.3,1.2),(10.8,0.8),
    (11.4,1.5),(12.0,0.6),(2.5,-1.5),(2.7,-0.9),(2.8,-1.7),(3.0,-1.2),(3.3,-1.8),(3.6,-0.6),(3.9,-1.0),(4.2,-1.8),(4.6,-1.0),(5.0,-1.3),(5.5,-0.6),(6.0,-1.0),(6.8,-1.4),(7.5,-0.7),(8.4,-1.3),(9.3,-1.0),
    (3.1,0.4),(3.2,1.9),(3.3,-0.3),(3.4,2.5),(3.5,1.1),(3.6,0.2),(3.7,1.7),(3.8,2.9),(3.9,0.8),(4.0,-0.6),(4.1,1.4),(4.2,2.2),(4.3,0.3),(4.4,1.8),(4.5,2.6),(4.6,1.0),(4.7,-0.2),(4.8,2.0),(4.9,1.3),(5.0,0.5),
    (5.1,2.4),(5.2,1.6),(5.3,-0.8),(5.4,1.1),(5.5,2.8),(5.6,0.6),(5.7,1.9),(5.8,0.1),(5.9,1.3),(6.0,2.5),(6.1,-0.4),(6.2,1.6),(6.3,0.8),(6.4,2.2),(6.5,-1.2),(6.6,1.2),(6.7,0.3),(6.8,2.7),(6.9,1.5),(7.0,-0.6),
    (7.2,2.0),(7.3,0.9),(7.5,1.4),(7.6,-0.1),(7.8,2.4),(7.9,0.6),(8.1,1.8),(8.2,-1.0),(8.4,1.1),(8.5,2.8),(8.7,0.2),(8.9,1.5),(9.0,-0.5),(9.2,2.2),(9.4,0.8),(9.6,1.3),(9.8,-0.2),(10.0,1.9),(3.3,1.3),(3.5,-0.9),
    (3.7,0.6),(3.9,1.9),(4.1,-1.4),(4.3,1.1),(4.5,0.1),(4.7,1.6),(4.9,-0.5),(5.1,0.9),(5.3,1.9),(5.5,0.0),(5.7,0.9),(5.9,2.1),(6.1,1.1),(6.3,1.9),(6.5,0.5),(3.2,-1.5),(3.6,-1.9),(4.0,-2.2),(4.4,-1.1),(4.8,-1.6),
    (5.2,-2.0),(5.6,-1.4),(3.4,0.7),(3.8,1.2),(4.2,0.6),(4.6,2.3),(5.0,1.7),(5.4,2.1),(5.8,1.5),(2.6,-2.6),(2.9,-2.1),(3.1,-2.4),(3.4,-2.9),
    (10.3,0.4),(10.6,2.0),(10.9,-0.8),(11.2,1.2),(11.5,0.1),(11.8,1.7),(12.1,-0.4),(12.4,0.9),(12.7,-1.5),(13.0,1.4),(13.3,0.3),(13.6,-0.9),(13.9,1.0),(14.2,-0.3),(14.5,1.5),(14.8,-1.8),(15.1,0.6),(15.4,-0.6),(15.7,1.2),(16.0,-1.2),
    (16.3,0.2),(16.6,-2.0),(16.9,0.8),(17.2,-0.9),(17.5,0.5),(17.8,-1.6),(18.1,-0.2),(18.4,0.9),(18.7,-2.3),(19.0,-0.6),(19.3,0.3),(19.6,-1.4),(20.0,-2.2),(20.4,-0.4),(20.8,-1.8),(21.2,0.1),(21.6,-1.1),(22.0,-2.4),(22.5,-0.7),(23.0,-1.6),
    (23.5,-0.2),(24.0,-2.0),(24.5,-0.9),(25.0,-1.5),(25.5,-2.6),(26.0,-0.5),(26.5,-1.8),(27.0,-1.1),(27.6,-2.3),(28.2,-0.8),(28.8,-1.4),(29.4,-2.2),(30.0,-1.7),(32.2,-1.8),(18.3,2.15),(20.8,1.85),(23.5,2.4),(15.3,2.2),(12.5,2.6),(24.8,1.0),
    (25.2,0.7),(25.6,0.4),(23.8,-0.1),(22.3,0.5),(11.0,-1.7),(14.0,-2.3),
    (13.2,4.6),(9.3,4.35),(7.6,3.7),(6.0,3.6),(6.2,3.7),(8.9,3.65),(10.4,3.35),(5.5,3.1),(6.6,3.3),(7.0,2.7),(28.5,-5.2),(32.9,-4.5),(32.7,-3.6),(25.3,-4.2),(21.2,-4.1),(27.0,-3.9),(27.8,-4.0),(20.3,-3.2),(21.2,-3.2),(25.3,-2.9),
    (25.6,-3.2),(26.8,-3.3),(35.2,-6.7),(2.5,-3.8),(2.8,-3.4),(3.2,-3.4),(2.3,-3.5),(4.2,-3.2),(4.5,-3.3),(5.4,-3.5),(6.0,-3.2),(5.8,-2.8),(3.5,-2.3),(14.6,-2.4),(4.4,2.6),(5.0,3.0),(7.9,3.0),(8.2,2.6),
]

# panel 6: network vs atlas on dataset C
p6_core = [
    (1.3,-1.5),(1.35,-0.7),(1.45,-1.9),(1.5,-1.1),(1.55,-0.2),(1.6,-1.5),(1.65,-0.6),(1.7,0.3),(1.75,-1.1),(1.8,-0.2),(1.85,-1.7),(1.9,0.6),(1.95,-0.8),(2.0,0.1),(2.1,0.9),(2.15,-0.5),(2.2,0.4),(2.3,1.1),(2.4,0.6),(1.4,-0.3),
    (1.6,0.5),(1.7,-1.9),(2.05,-1.3),(2.5,1.3),
]
p6_pts = [
    (1.0,-0.8),(1.05,-1.4),(1.1,-0.3),(1.15,-1.9),(1.2,-1.0),(1.25,0.2),(1.3,-1.6),(1.3,-0.5),(1.35,-1.2),(1.4,0.0),(1.4,-2.0),(1.45,-0.8),(1.5,-1.4),(1.5,0.4),(1.55,-0.3),(1.6,-1.8),(1.6,-0.9),(1.65,0.7),(1.7,-1.3),(1.7,-0.1),
    (1.75,-0.6),(1.8,-1.6),(1.8,0.5),(1.85,-1.0),(1.9,0.1),(1.9,1.0),(1.95,-0.4),(2.0,-1.2),(2.0,0.6),(2.05,-0.7),(2.1,1.3),(2.1,0.2),(2.15,-1.5),(2.2,0.9),(2.2,-0.3),(2.25,1.5),(2.3,0.4),(2.3,-0.9),(2.35,1.1),(2.4,0.0),
    (2.45,1.7),(2.5,0.7),(2.5,-0.5),(2.6,1.2),(2.65,0.3),(2.7,0.9),(2.8,1.6),(2.9,0.5),(1.35,-0.6),(1.45,-1.7),(1.55,-1.1),(1.65,-0.4),(1.75,-1.9),(1.85,0.3),(1.95,-1.4),(2.05,0.8),(1.6,0.2),(1.7,-0.8),(1.8,-0.3),(1.9,-0.8),
    (2.0,0.1),(1.5,-0.2),(1.4,-1.0),(1.3,-1.3),(1.2,-1.7),(1.1,-1.1),(1.75,0.9),(2.15,0.5),(2.25,-0.6),(1.55,-2.1),(1.25,-2.0),(1.65,1.1),(1.9,1.4),(2.4,1.2),(2.7,1.5),
    (7.9,3.92),(7.5,3.5),(4.7,3.1),(5.0,3.08),(8.6,3.0),(7.8,2.83),(5.5,2.6),(3.7,2.55),(6.4,2.5),(4.7,2.5),(7.9,2.5),(7.0,2.25),(6.5,2.1),(6.6,2.06),(12.3,1.95),(12.65,1.93),(9.4,1.64),(10.6,1.8),(11.7,1.77),(14.4,1.63),
    (16.4,1.63),(18.7,1.68),(20.0,1.14),(21.0,0.77),(21.4,0.63),(21.8,0.47),(25.3,0.5),(14.8,0.44),(15.2,0.43),(17.5,0.39),(20.7,0.1),(26.6,-0.12),(23.9,-0.34),(28.7,-1.48),(23.9,-1.79),(22.9,-1.53),(20.1,-1.24),(19.9,-1.46),(18.7,-1.46),(17.8,-1.14),
    (16.9,-1.46),(15.7,-0.73),(16.7,-0.7),(14.3,-0.47),(16.1,-0.95),(16.2,-1.47),(14.0,-1.14),(13.8,-1.8),(15.4,-2.32),(15.7,-2.2),(19.8,-2.17),(19.9,-2.36),(23.0,-2.24),(18.8,-1.92),(29.7,-2.85),(32.8,-2.78),(33.4,-2.5),(29.9,-4.7),(30.8,-4.83),(32.7,-5.37),
    (4.2,-4.35),(4.1,-2.54),(3.0,-2.55),(3.4,-2.6),(2.7,-2.5),(1.5,-2.7),(2.1,-2.6),(2.4,-2.2),(3.9,-2.1),(4.8,-2.1),(6.2,-2.2),(5.5,-1.9),(7.5,-1.5),(6.4,-1.0),(5.3,-1.0),(7.2,-1.6),(8.0,-1.4),(9.3,-1.7),(10.8,-1.3),(11.6,-0.8),
    (10.9,-0.7),(12.3,-0.6),(9.0,-0.4),(8.3,-0.3),(7.1,-0.2),(6.0,-0.7),(4.5,-1.4),(3.6,-1.5),(3.2,-0.9),(3.0,-0.4),(3.3,0.3),(3.5,0.8),(3.8,1.2),(4.0,1.6),(4.3,1.9),(4.6,1.8),(4.9,1.7),(5.2,1.5),(5.8,1.3),(6.1,1.6),
    (6.8,1.1),(7.3,0.8),(8.0,1.6),(8.5,1.4),(9.0,0.6),(9.8,1.2),(10.3,0.7),(11.2,0.5),(12.0,0.55),(12.8,0.9),(13.5,1.1),(13.1,1.4),(3.3,1.5),(3.6,2.0),(4.0,0.6),(4.4,1.0),(5.0,2.0),(5.6,1.6),(6.0,0.4),(6.3,2.0),
    (7.6,1.9),(8.8,1.6),(3.1,1.1),(3.9,0.1),(4.7,0.9),(5.4,0.3),(2.9,1.9),(3.2,2.2),(3.4,1.8),(6.9,0.0),(10.0,-0.1),(11.5,0.2),(9.5,0.2),(16.0,-0.3),(18.0,0.0),(14.6,-1.6),(21.5,-0.6),(17.3,-0.8),(13.0,-1.1),
]

# Bland-Altman summary values (mean, +1.96 SD, -1.96 SD)
ba_titles = ["Reference vs Network", "Reference vs Atlas", "Network vs Atlas", "Network vs Atlas (on dataset C)"]
ba_mean = [0.03, -0.02, -0.03, -0.07]
ba_upper = [2.3, 2.72, 1.89, 1.93]
ba_lower = [-2.2, -2.73, -1.98, -2.1]

# label offsets (points) for the outlier numbers
UL, UR, LR = (-5, 5), (4, 6), (5, -6)
off1 = [LR, LR, LR, UR, UL, LR, LR, UR, LR, LR]
off2 = [UL, LR, UL, LR, UR, UL, LR, UL, LR, UL]

ref = np.array(out_ref)
net = np.array(out_net)
atl = np.array(out_atlas)

fig = plt.figure(figsize=(8, 11.4), dpi=80)
cols = [0.061, 0.568]
rows = [0.709, 0.372, 0.036]
w, h = 0.4234, 0.2725
axs = [[fig.add_axes([c, r, w, h]) for c in cols] for r in rows]


def dots(ax, core, pts, color="C0", core_size=20):
    x, y = np.array(core).T
    ax.scatter(x, y, s=core_size, color=color, linewidths=0)
    x, y = np.array(pts).T
    ax.scatter(x, y, s=3.5, color=color, linewidths=0)


# main result
ax = axs[0][0]
dots(ax, p1_core, p1_pts, core_size=22)
ax.plot(ref, net, "*", color="C0", ms=5)
for i in range(10):
    ax.annotate(str(i), (ref[i], net[i]), xytext=off1[i], textcoords="offset points",
                ha="center", va="center")
ax.plot([0, 50], [0, 50], color="k", lw=0.8)
ax.set_xlim(0, 50)
ax.set_ylim(0, 50)
ax.set_xticks([0, 10, 20, 30, 40])
ax.set_yticks([0, 10, 20, 30, 40])
ax.set_xlabel("Reference in FF")
ax.set_ylabel("Network in FF")
ax.set_title("Main result and outliers")

# outlier analysis
ax = axs[0][1]
dots(ax, p2_core, p2_pts, core_size=26)
dx, dy = ref - net, ref - atl
ax.plot(dx, dy, "*", color="C0", ms=5)
for i in range(10):
    ax.annotate(str(i), (dx[i], dy[i]), xytext=off2[i], textcoords="offset points",
                ha="center", va="center")
ax.plot([-10, 26.7], [-10, 26.7], color="k", lw=0.8)
ax.set_xlim(-10, 26.7)
ax.set_ylim(-10, 26.7)
ax.set_xticks([-5, 0, 5, 10, 15, 20, 25])
ax.set_yticks([-5, 0, 5, 10, 15, 20, 25])
ax.set_xlabel("(Reference - Network) in FF")
ax.set_ylabel("(Reference - Atlas) in FF")
ax.set_title("Outlier analysis")

# Bland-Altman panels
ba_core = [p3_core, p4_core, p5_core, p6_core]
ba_pts = [p3_pts, p4_pts, p5_pts, p6_pts]
ba_extra = [((ref + net) / 2, ref - net), ((ref + atl) / 2, ref - atl), ((net + atl) / 2, net - atl), None]
ba_axes = [axs[1][0], axs[1][1], axs[2][0], axs[2][1]]
ba_ylim = [(-7.05, 24.1), (-7.05, 24.1), (-7.28, 5.1), (-5.86, 4.35)]
ba_yticks = [[-5, 0, 5, 10, 15, 20], [-5, 0, 5, 10, 15, 20], [-6, -4, -2, 0, 2, 4], [-4, -2, 0, 2, 4]]
ba_core_size = [22, 20, 20, 10]
for k, ax in enumerate(ba_axes):
    pts = list(ba_pts[k])
    if ba_extra[k] is not None:
        pts += list(zip(ba_extra[k][0], ba_extra[k][1]))
    col = "C1" if k == 3 else "C0"
    dots(ax, ba_core[k], pts, color=col, core_size=ba_core_size[k])
    ax.axhline(0, color="k", lw=1.6)
    ax.axhline(ba_mean[k], color="gray", ls="--", lw=1)
    ax.axhline(ba_upper[k], color="gray", ls="--", lw=1)
    ax.axhline(ba_lower[k], color="gray", ls="--", lw=1)
    tr = transforms.blended_transform_factory(ax.transAxes, ax.transData)
    span = ba_ylim[k][1] - ba_ylim[k][0]
    ax.text(0.97, ba_upper[k] + 0.004 * span, "+1.96 SD: %.1f" % ba_upper[k], transform=tr,
            ha="right", va="bottom", fontsize=7.5)
    ax.text(0.97, max(ba_mean[k], 0) + 0.01 * span, "mean: %.1f" % ba_mean[k],
            transform=tr, ha="right", va="bottom", fontsize=7.5)
    ax.text(0.97, ba_lower[k] - 0.004 * span, "-1.96 SD: %.1f" % ba_lower[k], transform=tr,
            ha="right", va="top", fontsize=7.5)
    ax.set_xlim(0, 40)
    ax.set_ylim(*ba_ylim[k])
    ax.set_yticks(ba_yticks[k])
    ax.set_xlabel("Means in FF")
    ax.set_ylabel("Difference in FF")
    ax.set_title(ba_titles[k])

fig.savefig("out.png", dpi=80)
